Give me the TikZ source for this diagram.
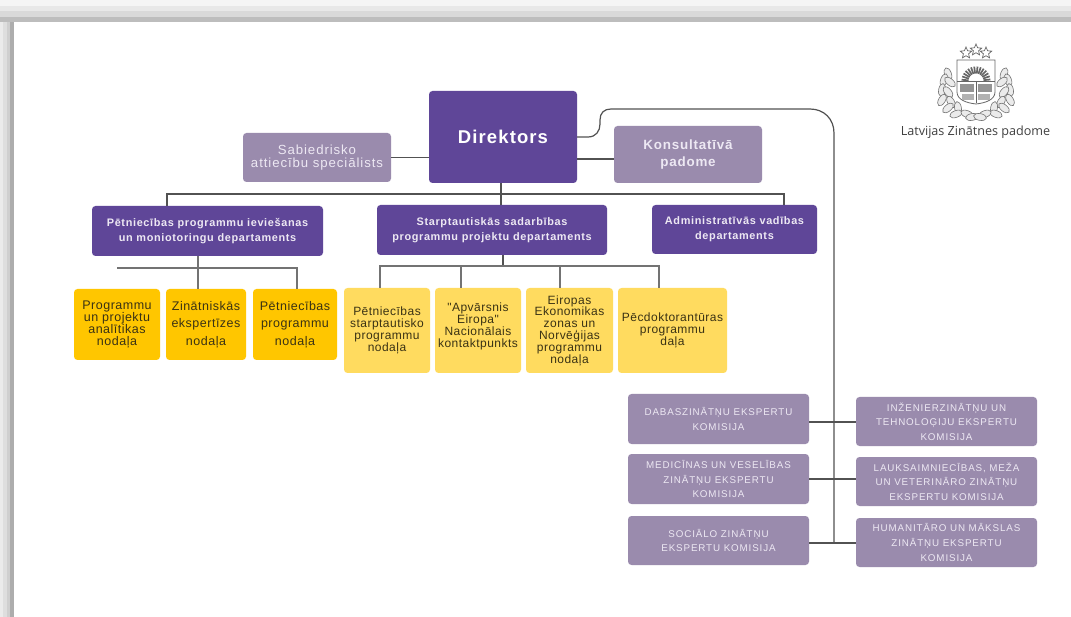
\documentclass[tikz,border=0pt]{standalone}
\usepackage{fontspec}
\usepackage{xcolor}
\usetikzlibrary{shapes,shapes.geometric,positioning,calc}
\setmainfont{Liberation Sans}
\newfontfamily\lsreg[LetterSpace=4]{Liberation Sans}
\newfontfamily\lssoft[LetterSpace=7]{Liberation Sans}
\newfontfamily\lsbold[LetterSpace=6]{Liberation Sans Bold}
\newfontfamily\lswide[LetterSpace=9]{Liberation Sans}
\newfontfamily\logofont{Open Sans}
\definecolor{violetdark}{HTML}{5F4698}
\definecolor{violetsoft}{HTML}{9A8BAD}
\definecolor{ambergold}{HTML}{FFC600}
\definecolor{amberpale}{HTML}{FFDB5F}
\definecolor{textpale}{HTML}{EDE8F3}
\definecolor{textdark}{HTML}{3A3214}

\begin{document}
\begin{tikzpicture}[x=1pt,y=-1pt]
  % Estilos
  \tikzstyle{box}=[rectangle, rounded corners=3.5pt, inner sep=0pt, align=center, draw=none]
  \tikzstyle{dirbox}=[box, fill=violetdark, text=white, font=\lsbold\fontsize{18.5}{22}\selectfont]
  \tikzstyle{deptbox}=[box, fill=violetdark, text=textpale, font=\lsbold\fontsize{10.9}{15}\selectfont]
  \tikzstyle{softbox}=[box, fill=violetsoft, text=textpale, font=\lssoft\fontsize{13.2}{13}\selectfont]
  \tikzstyle{adviserbox}=[box, fill=violetsoft, text=textpale, font=\lsbold\fontsize{13.4}{17}\selectfont]
  \tikzstyle{goldbox}=[box, fill=ambergold, text=textdark, font=\lsreg\fontsize{12.5}{12.3}\selectfont]
  \tikzstyle{goldwide}=[goldbox, font=\lsreg\fontsize{12.5}{17.5}\selectfont]
  \tikzstyle{palebox}=[box, fill=amberpale, text=textdark, font=\lsreg\fontsize{12}{11.8}\selectfont]
  \tikzstyle{commbox}=[box, fill=violetsoft, text=textpale, font=\lswide\fontsize{9.8}{14.7}\selectfont]
  \tikzstyle{conn}=[draw=black!68, line width=1.2pt]
  \tikzstyle{connsoft}=[draw=black!55, line width=1.5pt]
  \tikzstyle{leaf}=[draw=black!55, fill=black!8, line width=0.6pt]
  \tikzstyle{logostar}=[star, star points=5, star point ratio=2.2, draw=black!60, fill=white, line width=0.7pt, minimum size=12pt, inner sep=0pt]

  \useasboundingbox (0,0) rectangle (1071,617);
  \fill[white] (0,0) rectangle (1071,617);

  % Sombra del marco
  \foreach \ya/\yb/\lev in {0/6/4, 6/11/9, 11/17/15, 17/22/26}
    \fill[black!\lev] (0,\ya) rectangle (1071,\yb);
  \foreach \xa/\xb/\lev in {0/3/8, 3/7/13, 7/10/19, 10/14/32}
    \fill[black!\lev] (\xa,22) rectangle (\xb,617);

  % Director y asesores
  \node[dirbox, minimum width=148pt, minimum height=92pt] (dir) at (503,137) {Direktors};
  \node[softbox, minimum width=148pt, minimum height=49pt] (sab) at (317,157.5) {Sabiedrisko\\attiecību speciālists};
  \node[adviserbox, minimum width=148pt, minimum height=57pt] (kons) at (688,154.5) {Konsultatīvā\\padome};

  % Departamentos
  \node[deptbox, minimum width=231pt, minimum height=50pt] (pd1) at (207.5,231) {Pētniecības programmu ieviešanas\\un moniotoringu departaments};
  \node[deptbox, minimum width=230pt, minimum height=50pt] (pd2) at (492,230) {Starptautiskās sadarbības\\programmu projektu departaments};
  \node[deptbox, minimum width=165pt, minimum height=49pt] (pd3) at (734.5,229.5) {Administratīvās vadības\\departaments};

  % Nodalas
  \node[goldbox, minimum width=86pt, minimum height=71pt] (y1) at (117,324.5) {Programmu\\un projektu\\analītikas\\nodaļa};
  \node[goldwide, minimum width=80pt, minimum height=71pt] (y2) at (206,324.5) {Zinātniskās\\ekspertīzes\\nodaļa};
  \node[goldwide, minimum width=84pt, minimum height=71pt] (y3) at (295,324.5) {Pētniecības\\programmu\\nodaļa};
  \node[palebox, minimum width=86pt, minimum height=85pt] (l1) at (387,330.5) {Pētniecības\\starptautisko\\programmu\\nodaļa};
  \node[palebox, minimum width=86pt, minimum height=85pt] (l2) at (478,330.5) {"Apvārsnis\\Eiropa"\\Nacionālais\\kontaktpunkts\\[-1pt]\mbox{}};
  \node[palebox, minimum width=87pt, minimum height=85pt] (l3) at (569.5,330.5) {Eiropas\\Ekonomikas\\zonas un\\Norvēģijas\\programmu\\nodaļa};
  \node[palebox, minimum width=109pt, minimum height=85pt] (l4) at (672.5,330.5) {Pēcdoktorantūras\\programmu\\daļa};

  % Komisijas
  \node[commbox, minimum width=181pt, minimum height=50pt] (k1) at (718.5,419) {DABASZINĀTŅU EKSPERTU\\KOMISIJA};
  \node[commbox, minimum width=181pt, minimum height=50pt] (k2) at (718.5,479) {MEDICĪNAS UN VESELĪBAS\\ZINĀTŅU EKSPERTU\\KOMISIJA};
  \node[commbox, minimum width=181pt, minimum height=49pt] (k3) at (718.5,540.5) {SOCIĀLO ZINĀTŅU\\EKSPERTU KOMISIJA};
  \node[commbox, minimum width=181pt, minimum height=49pt] (k4) at (946.5,421.5) {INŽENIERZINĀTŅU UN\\TEHNOLOĢIJU EKSPERTU\\KOMISIJA};
  \node[commbox, minimum width=181pt, minimum height=49pt] (k5) at (946.5,481.5) {LAUKSAIMNIECĪBAS, MEŽA\\UN VETERINĀRO ZINĀTŅU\\EKSPERTU KOMISIJA};
  \node[commbox, minimum width=181pt, minimum height=49pt] (k6) at (946.5,542.5) {HUMANITĀRO UN MĀKSLAS\\ZINĀTŅU EKSPERTU\\KOMISIJA};

  % Puntos de las lineas
  \coordinate (bus) at (501,194);
  \coordinate (busl) at (167,194);
  \coordinate (busr) at (784,194);
  \coordinate (konsy) at (0,159);
  \coordinate (gold) at (198,268);
  \coordinate (goldl) at (117,268);
  \coordinate (goldr) at (297,268);
  \coordinate (pale) at (503,266);
  \coordinate (palel) at (380,266);
  \coordinate (palem) at (461,266);
  \coordinate (palen) at (560,266);
  \coordinate (paler) at (659,266);
  \coordinate (spine) at (834,543);
  \coordinate (row1) at (0,422);
  \coordinate (row2) at (0,479);
  \coordinate (row3) at (0,543);

  % Conexiones
  \draw[conn] (sab.east) -- (sab.east -| dir.west);
  \draw[conn] (dir.east |- konsy) -- (kons.west |- konsy);
  \draw[conn] (bus |- dir.south) -- (bus |- pd2.north);
  \draw[conn] (pd1.north -| busl) -- (busl) -- (busr) -- (pd3.north -| busr);
  \draw[connsoft] (gold |- pd1.south) -- (gold |- y2.north);
  \draw[connsoft] (goldl) -- (goldr) -- (goldr |- y3.north);
  \draw[conn] (pale |- pd2.south) -- (pale);
  \draw[connsoft] (palel |- l1.north) -- (palel) -- (paler) -- (paler |- l4.north);
  \draw[connsoft] (palem) -- (palem |- l2.north);
  \draw[connsoft] (palen) -- (palen |- l3.north);
  \draw[conn] (dir.east) -- (588,137) .. controls (596,137) and (600,131) .. (600,124) -- (600,120)
    .. controls (600,113) and (604,109) .. (611,109) -- (810,109)
    .. controls (824,109) and (834,119) .. (834,133) -- (spine);
  \draw[conn] (k1.east |- row1) -- (k4.west |- row1);
  \draw[conn] (k2.east |- row2) -- (k5.west |- row2);
  \draw[conn] (k3.east |- row3) -- (k6.west |- row3);

  % Escudo
  \foreach \s in {-1,1} {
    \foreach \dx/\dy/\ang in {28/74/70, 32/80/110, 26/82/40, 34/90/100, 28/92/50, 34/100/120, 25/102/60, 28/108/140, 18/108/80, 20/114/160, 9/114/20, 4/117/170}
      \draw[leaf, shift={(976+\s*\dx,\dy)}, rotate=\s*\ang] (0,0) ellipse (6.5 and 3.4);
  }
  \draw[black!60, line width=0.8pt, fill=white] (957,60) -- (995,60) -- (995,92) .. controls (995,100) and (985,103) .. (976,104) .. controls (967,103) and (957,100) .. (957,92) -- cycle;
  \begin{scope}[shift={(976,81)}]
    \foreach \a in {185,198,...,355}
      \draw[black!60, line width=1.7pt] (\a:7.5) -- (\a:14.5);
  \end{scope}
  \draw[black!60, line width=0.7pt] (957,81.5) -- (995,81.5);
  \draw[black!60, line width=0.7pt] (976,82) -- (976,103);
  \fill[black!42] (960,84) rectangle (974,92);
  \fill[black!42] (978,84) rectangle (992,92);
  \fill[black!30] (962,94) rectangle (974,100);
  \fill[black!30] (978,94) rectangle (990,100);
  \node[logostar] (star1) at (966,53) {};
  \node[logostar] (star2) at (976,50) {};
  \node[logostar] (star3) at (986,53) {};

  \node[font=\logofont\fontsize{12.6}{15}\selectfont, text=black!75, inner sep=0pt] (lzp) at (975.5,132) {Latvijas Zinātnes padome};
\end{tikzpicture}
\end{document}
